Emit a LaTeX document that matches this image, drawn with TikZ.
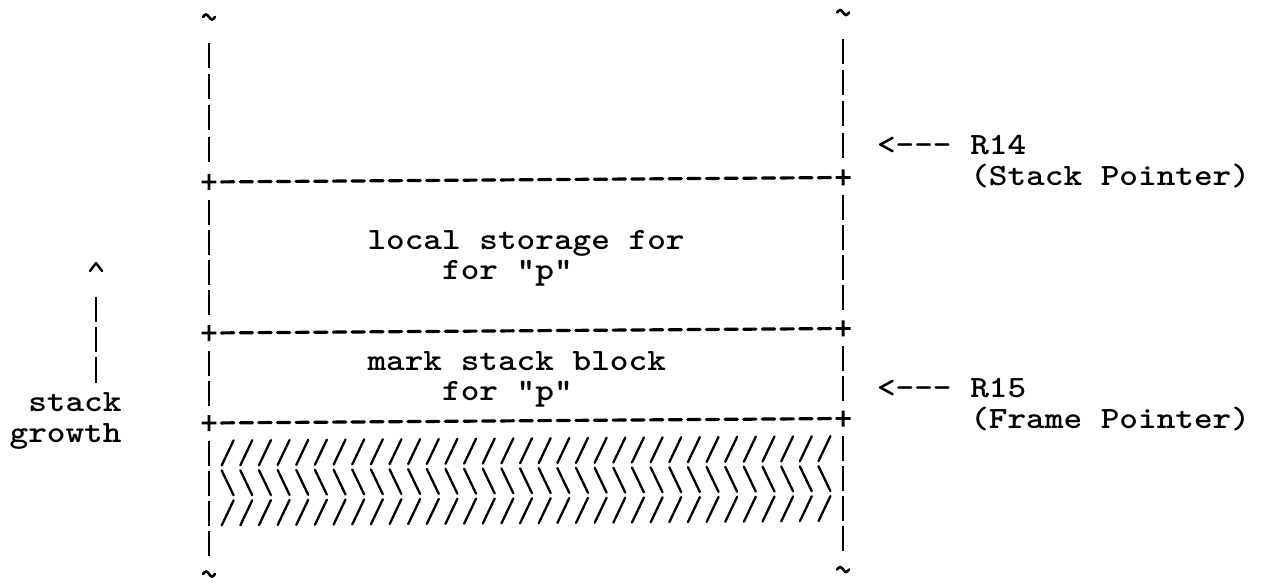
\documentclass[tikz,border=0pt]{standalone}
\usepackage{graphicx}
% typewriter face, widened to a 10-pitch cell
\newcommand{\typed}[1]{\scalebox{1.146}[1]{#1}}
\begin{document}
\begin{tikzpicture}[x=1pt,y=-1pt,
  lbl/.style={inner sep=0pt,outer sep=0pt,anchor=base west,
    font=\ttfamily\bfseries\fontsize{31pt}{30pt}\selectfont},
  barln/.style={line width=2.4pt,line cap=butt},
  dashln/.style={line width=3.2pt,line cap=round},
  plusln/.style={line width=2.8pt,line cap=butt},
  hatchln/.style={line width=2.3pt,line cap=round},
  tildeln/.style={line width=2.6pt,line cap=round},
  caretln/.style={line width=2.4pt,line cap=round,line join=round}]
\fill[white] (0,0) rectangle (1265,585);
\useasboundingbox (0,0) rectangle (1265,585);

% the stack column: one cell = one character of the typed layout
\begin{scope}[shift={(209pt,0pt)},x={(18.65pt,0.1324pt)},y={(0pt,-1pt)}]
  % side walls
  \foreach \yy in {56,87,118,150,212.5,242.5,272.5,302.5,363,393,453,483,513,543}
    \foreach \c in {0,34}
      \draw[barln] (\c,\yy-12.5) -- (\c,\yy+12.5);
  % frame boundaries
  \foreach \yy in {182,333,423}{
    \foreach \c in {1,...,33}
      \draw[dashln] (\c-0.33,\yy) -- (\c+0.33,\yy);
    \foreach \c in {0,34}
      \draw[plusln] (\c-0.4,\yy) -- (\c+0.4,\yy) (\c,\yy-8) -- (\c,\yy+8);
  }
  % caller's frame, hatched
  \foreach \yy/\s in {453/1,483/-1,513/1}
    \foreach \c in {1,...,33}
      \draw[hatchln] (\c-0.32,\yy+12.5*\s) -- (\c+0.32,\yy-12.5*\s);
  % open ends of the stack
  \foreach \c/\yy in {0/17,34/17,0/574,34/574}
    \draw[tildeln] (\c-0.32,\yy) sin (\c-0.16,\yy-2.5) cos (\c,\yy)
                   sin (\c+0.16,\yy+2.5) cos (\c+0.32,\yy);
\end{scope}

% frame contents
\node[lbl] (local)  at (367.5,249.5) {\typed{local storage for}};
\node[lbl] (localp) at (442.1,279.5) {\typed{for "p"}};
\node[lbl] (mark)   at (367.5,370)   {\typed{mark stack block}};
\node[lbl] (markp)  at (442.1,400)   {\typed{for "p"}};

% registers
\node[lbl] (r14) at (877,155)    {\typed{<-\kern0pt-\kern0pt- R14}};
\node[lbl] (sp)  at (970.25,186) {\typed{(Stack Pointer)}};
\node[lbl] (r15) at (877,397)    {\typed{<-\kern0pt-\kern0pt- R15}};
\node[lbl] (fp)  at (970.25,428) {\typed{(Frame Pointer)}};

% direction of growth
\node[lbl] (stack)  at (28.25,411) {\typed{stack}};
\node[lbl] (growth) at (9.6,442)   {\typed{growth}};
\coordinate (c0) at (90,271);
\coordinate (c1) at (96,263);
\coordinate (c2) at (102,271);
\draw[caretln] (c0) -- (c1) -- (c2);
\coordinate (g0) at (96,296.5);
\coordinate (g1) at (96,322);
\coordinate (g2) at (96,326.5);
\coordinate (g3) at (96,352);
\coordinate (g4) at (96,356.5);
\coordinate (g5) at (96,383);
\draw[barln] (g0) -- (g1) (g2) -- (g3) (g4) -- (g5);
\end{tikzpicture}
\end{document}
